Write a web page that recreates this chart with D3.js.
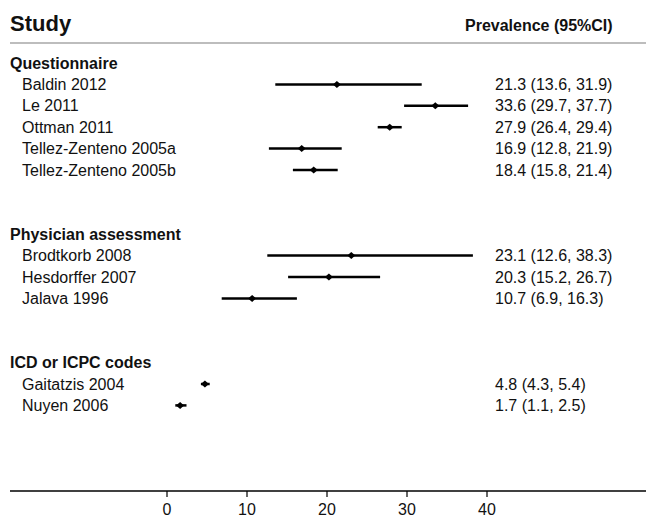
<!DOCTYPE html>
<html>
<head>
<meta charset="utf-8">
<script src="https://cdn.jsdelivr.net/npm/d3@7"></script>
<style>
  body { margin: 0; background: #fff; }
  text { font-family: "Liberation Sans", Arial, sans-serif; fill: #111; }
</style>
</head>
<body>
<svg id="forest"></svg>
<script>
// groups and studies, in drawing order
const groups = ["Questionnaire", "Physician assessment", "ICD or ICPC codes"];
const studyGroup = [0, 0, 0, 0, 0, 1, 1, 1, 2, 2];
const studies = ["Baldin 2012", "Le 2011", "Ottman 2011", "Tellez-Zenteno 2005a", "Tellez-Zenteno 2005b",
                 "Brodtkorb 2008", "Hesdorffer 2007", "Jalava 1996",
                 "Gaitatzis 2004", "Nuyen 2006"];
const estimate = [21.3, 33.6, 27.9, 16.9, 18.4, 23.1, 20.3, 10.7, 4.8, 1.7];
const lower    = [13.6, 29.7, 26.4, 12.8, 15.8, 12.6, 15.2, 6.9, 4.3, 1.1];
const upper    = [31.9, 37.7, 29.4, 21.9, 21.4, 38.3, 26.7, 16.3, 5.4, 2.5];
const xTicks = [0, 10, 20, 30, 40];

const width = 646, height = 517;
const margin = { left: 10, axisY: 491 };

// each group gets a header slot, one slot per study, then two blank slots
let rows = [];
let slot = 0;
groups.forEach((g, gi) => {
    rows.push({ type: "group", label: g, slot: slot++ });
    studies.forEach((s, i) => {
        if (studyGroup[i] === gi) rows.push({ type: "study", i: i, label: s, slot: slot++ });
    });
    slot += 2;
});
const lastSlot = d3.max(rows, d => d.slot);

let y = d3.scaleLinear().domain([0, lastSlot]).range([63, 405.4]);
let x = d3.scaleLinear().domain([0, 40]).range([166.5, 486.5]);

let svg = d3.select("#forest")
    .attr("width", width)
    .attr("height", height);

// headers
svg.append("text")
    .attr("x", margin.left).attr("y", 23.5)
    .attr("dominant-baseline", "central")
    .style("font-size", "22px").style("font-weight", "bold")
    .text("Study");

svg.append("text")
    .attr("x", 465).attr("y", 25)
    .attr("dominant-baseline", "central")
    .style("font-size", "16px").style("font-weight", "bold")
    .text("Prevalence (95%CI)");

svg.append("line")
    .attr("x1", margin.left).attr("x2", width)
    .attr("y1", 43).attr("y2", 43)
    .attr("stroke", "#bdbdbd").attr("stroke-width", 2);

// left labels
svg.append("g")
    .selectAll("text")
    .data(rows)
    .join("text")
    .attr("x", d => d.type === "group" ? margin.left : 22)
    .attr("y", d => y(d.slot))
    .attr("dominant-baseline", "central")
    .style("font-size", "16px")
    .style("font-weight", d => d.type === "group" ? "bold" : "normal")
    .text(d => d.label);

let studyRows = rows.filter(d => d.type === "study");

// confidence intervals
svg.append("g")
    .selectAll("line")
    .data(studyRows)
    .join("line")
    .attr("x1", d => x(lower[d.i]))
    .attr("x2", d => x(upper[d.i]))
    .attr("y1", d => y(d.slot))
    .attr("y2", d => y(d.slot))
    .attr("stroke", "#000")
    .attr("stroke-width", 2.5);

// point estimates (small diamonds)
svg.append("g")
    .selectAll("path")
    .data(studyRows)
    .join("path")
    .attr("d", d => {
        let cx = x(estimate[d.i]), cy = y(d.slot);
        return `M${cx - 4},${cy}L${cx},${cy - 3.5}L${cx + 4},${cy}L${cx},${cy + 3.5}Z`;
    })
    .attr("fill", "#000");

// value text
let f = d3.format(".1f");
svg.append("g")
    .selectAll("text")
    .data(studyRows)
    .join("text")
    .attr("x", 495)
    .attr("y", d => y(d.slot))
    .attr("dominant-baseline", "central")
    .style("font-size", "16px")
    .text(d => `${f(estimate[d.i])} (${f(lower[d.i])}, ${f(upper[d.i])})`);

// x axis
let xAxis = g => g
    .attr("transform", `translate(0,${margin.axisY})`)
    .call(d3.axisBottom(x).tickValues(xTicks).tickSize(6).tickPadding(7))
    .call(g => g.select(".domain").remove())
    .call(g => g.selectAll(".tick line").attr("stroke", "#000").attr("stroke-width", 1.2))
    .call(g => g.selectAll(".tick text")
        .style("font-family", "'Liberation Sans', Arial, sans-serif")
        .style("font-size", "16px").attr("fill", "#111"));

svg.append("line")
    .attr("x1", margin.left).attr("x2", width)
    .attr("y1", margin.axisY).attr("y2", margin.axisY)
    .attr("stroke", "#000").attr("stroke-width", 1.5);

svg.append("g").call(xAxis);
</script>
</body>
</html>
